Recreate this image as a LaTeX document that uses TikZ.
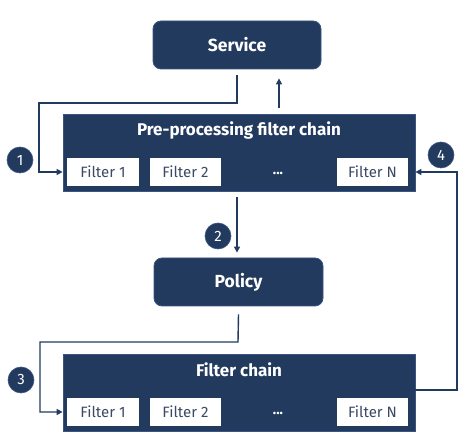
\documentclass[tikz,border=0pt]{standalone}
\usepackage{fontspec}
\setmainfont{Fira Sans}
\usetikzlibrary{arrows.meta}
\definecolor{navy}{HTML}{223A5E}
\definecolor{navyedge}{HTML}{3A5584}
\definecolor{ftext}{HTML}{3B4A63}
\tikzset{
  bigbox/.style={fill=navy, draw=navyedge, line width=0.8pt, inner sep=0pt},
  roundbox/.style={bigbox, rounded corners=8pt, text=white, font=\fontsize{17.5}{20}\selectfont\bfseries},
  chainbox/.style={bigbox},
  titletext/.style={text=white, font=\fontsize{17}{20}\selectfont\bfseries, inner sep=0pt},
  filterbox/.style={fill=white, draw=none, inner sep=0pt, minimum height=28pt, text=ftext, font=\fontsize{15}{18}\selectfont},
  dotstext/.style={text=white, font=\fontsize{14}{16}\selectfont\bfseries, inner sep=0pt},
  badge/.style={circle, fill=navy, draw=navyedge, line width=0.6pt, minimum size=26pt, inner sep=0pt, text=white, font=\fontsize{15}{18}\selectfont},
  conn/.style={draw=navy, line width=1.4pt, line join=miter},
  arr/.style={conn, -{Triangle[length=6pt,width=6pt]}}
}
\begin{document}
\begin{tikzpicture}[x=1pt,y=-1pt]
\useasboundingbox (0,0) rectangle (472,443);
% Service
\node[roundbox, minimum width=168pt, minimum height=48pt] (service) at (237,45) {Service};
% Pre-processing chain
\node[chainbox, minimum width=352pt, minimum height=77pt] (pre) at (239,152.5) {};
\node[titletext] (pretitle) at (239,130) {Pre-processing filter chain};
\node[filterbox, minimum width=72pt] (pf1) at (103,172) {Filter 1};
\node[filterbox, minimum width=71pt] (pf2) at (185.5,172) {Filter 2};
\node[dotstext] (pdots) at (278,173) {...};
\node[filterbox, minimum width=71pt] (pfn) at (372.5,172) {Filter N};
% Policy
\node[roundbox, minimum width=169pt, minimum height=48pt] (policy) at (238.5,282) {Policy};
% Filter chain
\node[chainbox, minimum width=352pt, minimum height=77pt] (chain) at (239,392.5) {};
\node[titletext] (chaintitle) at (239,370) {Filter chain};
\node[filterbox, minimum width=72pt] (cf1) at (103,412) {Filter 1};
\node[filterbox, minimum width=71pt] (cf2) at (185.5,412) {Filter 2};
\node[dotstext] (cdots) at (278,413) {...};
\node[filterbox, minimum width=71pt] (cfn) at (372.5,412) {Filter N};
% badges
\node[badge] (b1) at (20,160) {1};
\node[badge] (b2) at (218,236) {2};
\node[badge] (b3) at (21,380) {3};
\node[badge] (b4) at (441,155) {4};
% connectors
\coordinate (s1) at ([yshift=-6pt]service.south);
\coordinate (k1) at (237,103);
\coordinate (k2) at (39,103);
\draw[arr] (s1) -- (k1) -- (k2) -- (k2 |- pf1) -- (pre.west |- pf1);
\coordinate (u1) at ([xshift=40pt,yshift=6pt]pre.north);
\coordinate (u2) at ([yshift=-9pt]service.south);
\draw[arr] (u1) -- (u1 |- u2);
\coordinate (d1) at ([xshift=-2pt,yshift=-6pt]pre.south);
\coordinate (d2) at ([yshift=5pt]policy.north);
\draw[arr] (d1) -- (d1 |- d2);
\coordinate (p1) at ([yshift=-8pt]policy.south);
\coordinate (k3) at (238,342);
\coordinate (k4) at (40,342);
\draw[arr] (p1) -- (k3) -- (k4) -- (k4 |- cf1) -- (chain.west |- cf1);
\coordinate (r1) at (chain.east |- 0,390);
\coordinate (r2) at (457,390);
\draw[arr] (r1) -- (r2) -- (r2 |- pfn) -- (pre.east |- pfn);
\end{tikzpicture}
\end{document}
